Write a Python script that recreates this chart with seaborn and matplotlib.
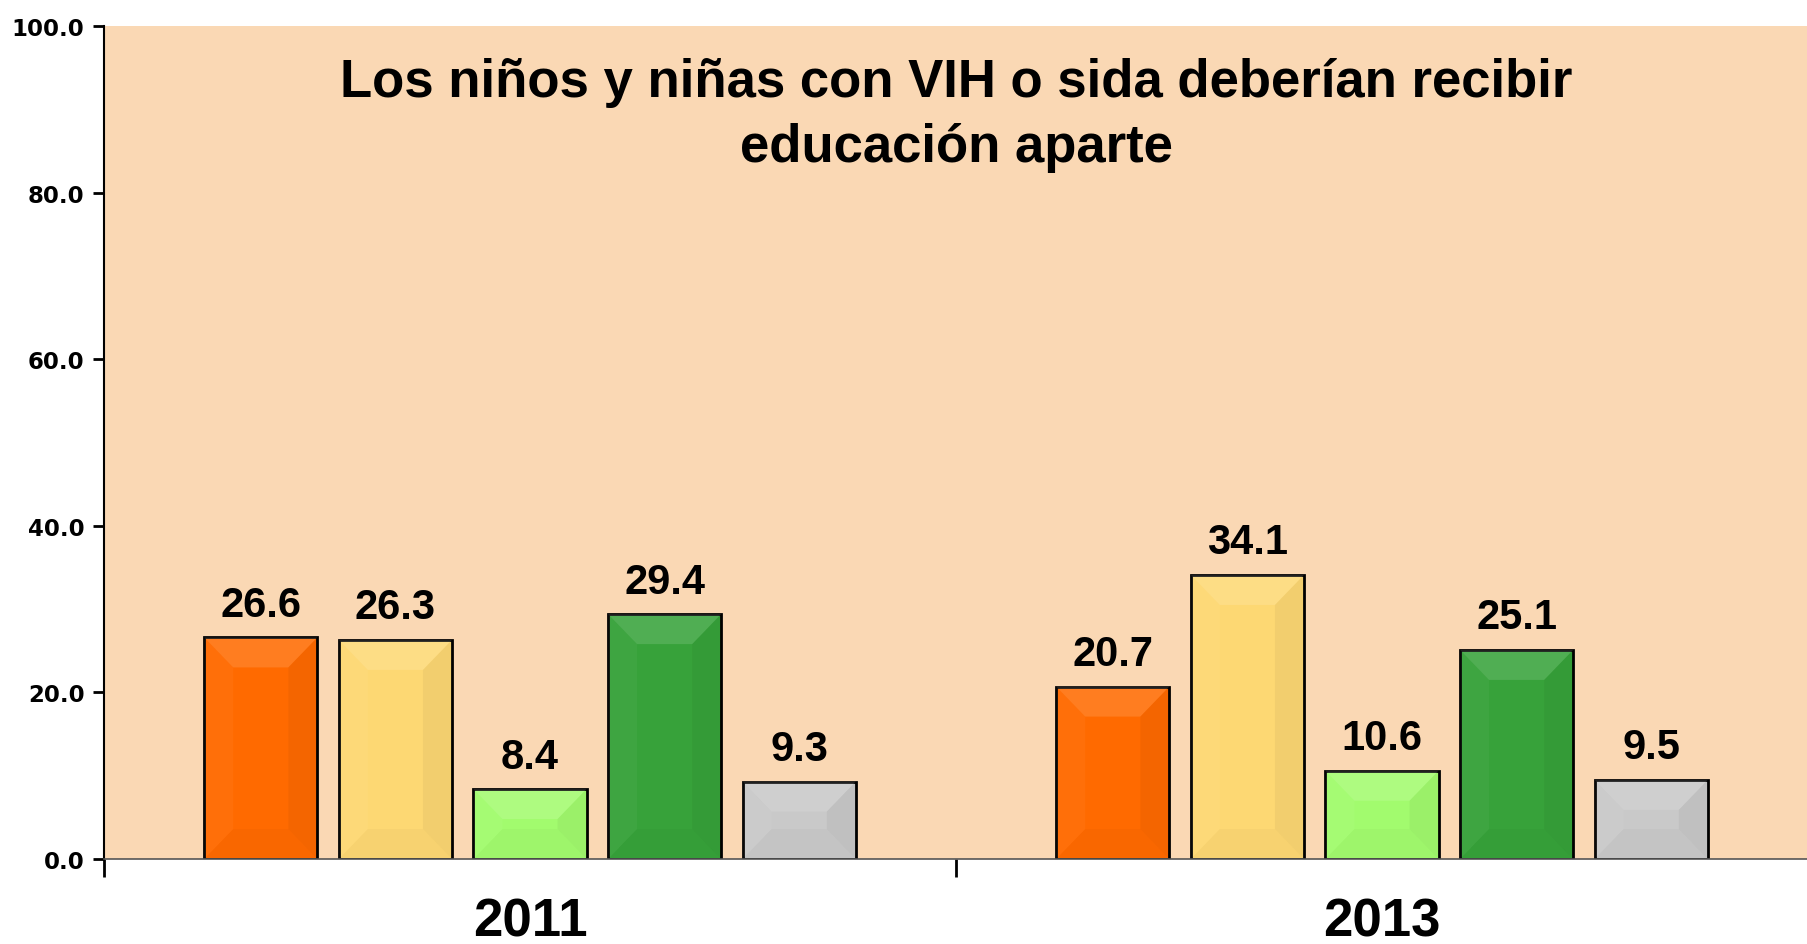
import pandas as pd
import seaborn as sns
import matplotlib.pyplot as plt
from matplotlib.patches import Polygon
from matplotlib.ticker import FormatStrFormatter, FixedLocator

# data
years = ["2011", "2013"]
responses = ["Muy de acuerdo", "De acuerdo", "Ni de acuerdo ni en desacuerdo",
             "En desacuerdo", "No sabe"]
values_2011 = [26.6, 26.3, 8.4, 29.4, 9.3]
values_2013 = [20.7, 34.1, 10.6, 25.1, 9.5]
bar_colors = ["#ff6a00", "#fdd873", "#a2fb6e", "#37a23a", "#c9c9c9"]

title = "Los niños y niñas con VIH o sida deberían recibir\neducación aparte"

df = pd.DataFrame({
    "year": [years[0]] * len(responses) + [years[1]] * len(responses),
    "response": responses + responses,
    "pct": values_2011 + values_2013,
})

sns.set_theme(style="white")
plt.rcParams["font.family"] = ["Liberation Sans", "DejaVu Sans"]
plt.rcParams["text.color"] = "black"
plt.rcParams["xtick.color"] = "black"
plt.rcParams["ytick.color"] = "black"

fig = plt.figure(figsize=(18.08, 9.45), dpi=100)
ax = fig.add_axes([104 / 1808, 1 - 860 / 945, 1 - 104 / 1808, (860 - 27) / 945])
ax.set_facecolor("#fad8b4")

sns.barplot(data=df, x="year", y="pct", hue="response", hue_order=responses,
            palette=bar_colors, saturation=1, width=0.79, gap=0.16,
            edgecolor="black", linewidth=2, legend=False, ax=ax)

ax.set_xlim(-0.5, 1.5)
ax.set_ylim(0, 100)

# soft bevel look: light top, slightly darker right side
dx = 0.034
dy = 3.6
for cont in ax.containers:
    for bar in cont:
        x0, y0 = bar.get_x(), bar.get_y()
        x1, y1 = x0 + bar.get_width(), y0 + bar.get_height()
        d = min(dy, bar.get_height() / 2)
        k = d / dy * dx
        z = bar.get_zorder() + 0.1
        top = [(x0, y1), (x1, y1), (x1 - k, y1 - d), (x0 + k, y1 - d)]
        right = [(x1, y1), (x1, y0), (x1 - k, y0 + d), (x1 - k, y1 - d)]
        bottom = [(x0, y0), (x1, y0), (x1 - k, y0 + d), (x0 + k, y0 + d)]
        left = [(x0, y1), (x0, y0), (x0 + k, y0 + d), (x0 + k, y1 - d)]
        ax.add_patch(Polygon(top, facecolor="white", alpha=0.13, lw=0, zorder=z))
        ax.add_patch(Polygon(right, facecolor="black", alpha=0.045, lw=0, zorder=z))
        ax.add_patch(Polygon(bottom, facecolor="black", alpha=0.025, lw=0, zorder=z))
        ax.add_patch(Polygon(left, facecolor="white", alpha=0.04, lw=0, zorder=z))

for cont in ax.containers:
    ax.bar_label(cont, fmt="%.1f", padding=9, fontsize=30, fontweight="bold")

ax.set_xlabel("")
ax.set_ylabel("")

ax.set_yticks([0, 20, 40, 60, 80, 100])
ax.yaxis.set_major_formatter(FormatStrFormatter("%.1f"))
ax.tick_params(axis="y", direction="out", length=8, width=2, left=True,
               labelsize=16.5, pad=6)
for lbl in ax.get_yticklabels():
    lbl.set_fontfamily("DejaVu Sans")
    lbl.set_fontweight("bold")

ax.tick_params(axis="x", which="major", length=0, labelsize=38, pad=27)
for lbl in ax.get_xticklabels():
    lbl.set_fontweight("bold")
ax.xaxis.set_minor_locator(FixedLocator([-0.5, 0.5, 1.5]))
ax.tick_params(axis="x", which="minor", direction="out", length=13, width=2,
               bottom=True, color="black")

for side in ["top", "right"]:
    ax.spines[side].set_visible(False)
ax.spines["left"].set_color("black")
ax.spines["left"].set_linewidth(1.5)
ax.spines["bottom"].set_color("#555555")
ax.spines["bottom"].set_linewidth(1.2)

ax.text(0.5, 0.963, title, transform=ax.transAxes, ha="center", va="top",
        fontsize=38, fontweight="bold", linespacing=1.4)

fig.savefig("out.png", dpi=100)
